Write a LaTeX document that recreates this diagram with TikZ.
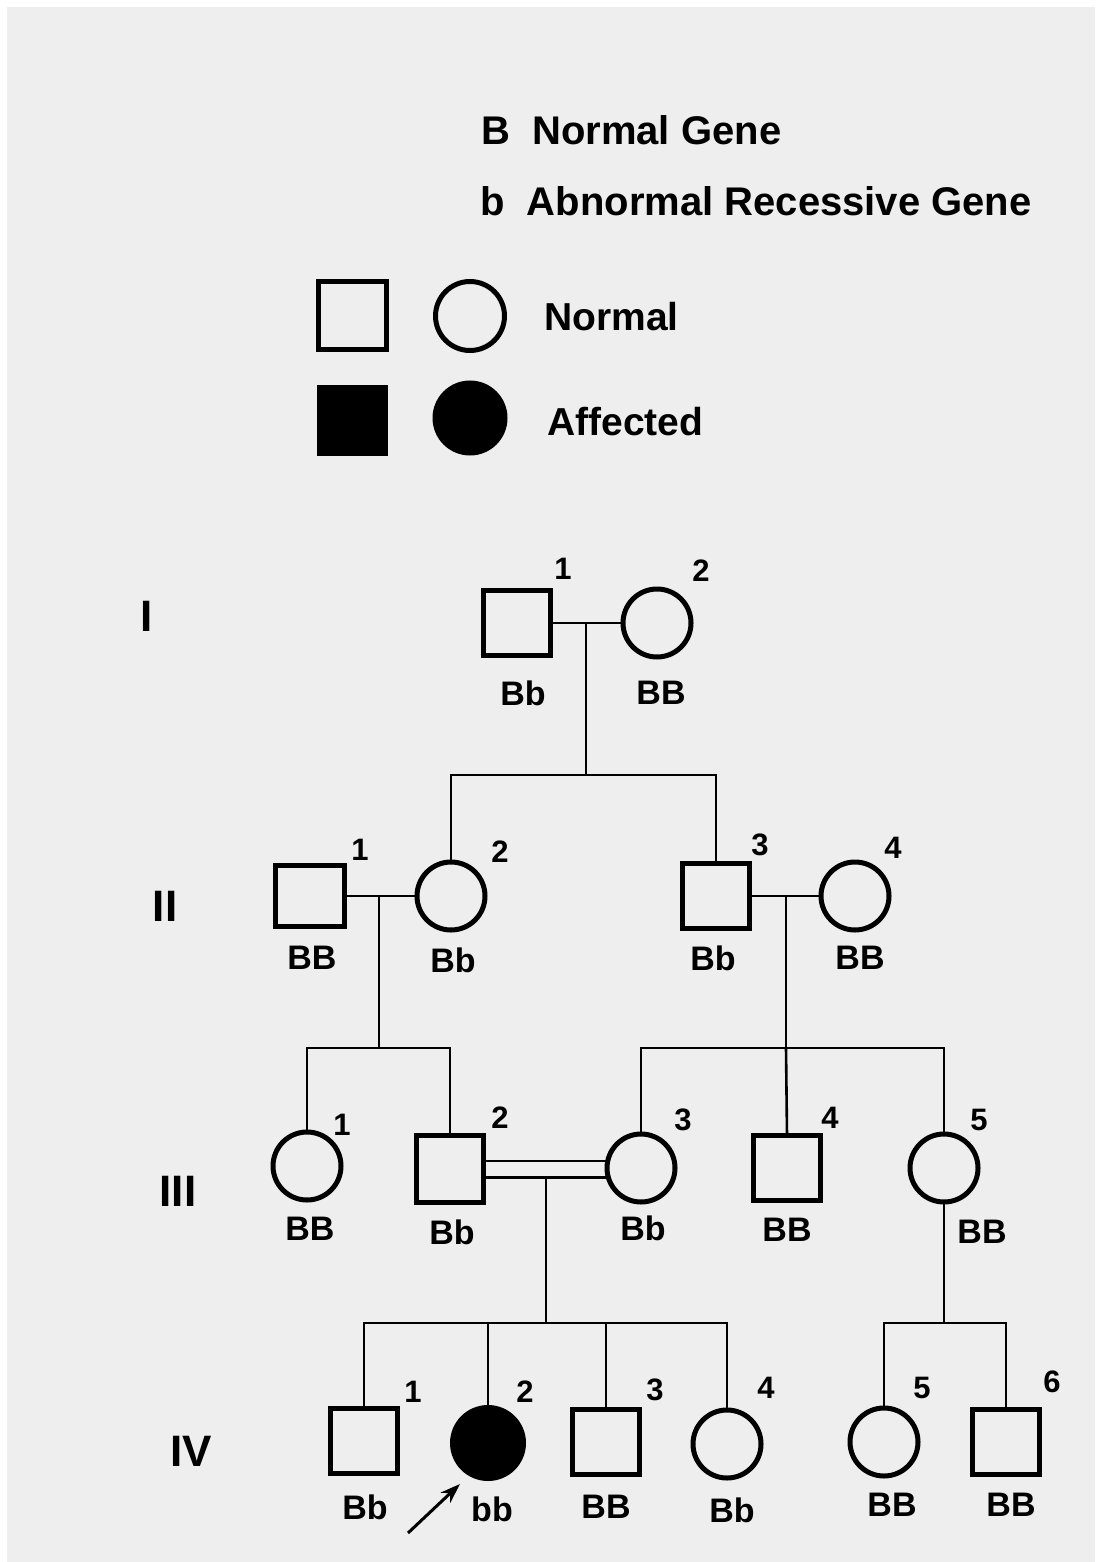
\documentclass[tikz,border=0pt]{standalone}
\usepackage{fontspec}
\setmainfont{Liberation Sans}
\usetikzlibrary{arrows.meta}
\definecolor{paper}{RGB}{238,238,238}
\begin{document}
\begin{tikzpicture}[x=1pt,y=-1pt,
  sym/.style={draw=black, line width=5pt, inner sep=0pt, outer sep=0pt},
  male/.style={sym, rectangle, minimum width=67pt, minimum height=65pt},
  female/.style={sym, circle, minimum size=68pt},
  aff/.style={fill=black},
  geno/.style={font=\fontsize{34}{38}\selectfont\bfseries, inner sep=0pt},
  idx/.style={font=\fontsize{31}{36}\selectfont\bfseries, inner sep=0pt},
  gen/.style={font=\fontsize{44}{50}\selectfont\bfseries, inner sep=0pt},
  legendtext/.style={font=\fontsize{40}{48}\selectfont\bfseries, inner sep=0pt, anchor=base west},
  link/.style={line width=2.6pt},
]
% page and paper
\fill[white] (0,0) rectangle (1095,1562);
\fill[paper] (7,7) rectangle (1095,1562);
\useasboundingbox (0,0) rectangle (1095,1562);

% ---- key ----
\node[legendtext] (keyB) at (481,145) {B\ \ Normal Gene};
\node[legendtext] (keyb) at (480,216) {b\ \ Abnormal Recessive Gene};
\node[male, minimum width=68pt, minimum height=68pt] (kMn) at (352,315) {};
\node[female, minimum size=69pt] (kFn) at (470,316) {};
\node[legendtext, font=\fontsize{39}{46}\selectfont\bfseries] (kNormal) at (544,330) {Normal};
\node[male, aff, minimum width=66pt, minimum height=66pt] (kMa) at (352,420) {};
\node[female, aff, minimum size=70pt] (kFa) at (470,418) {};
\node[legendtext, font=\fontsize{39}{46}\selectfont\bfseries] (kAff) at (547,435) {Affected};

% ---- generation labels ----
\node[gen] (gI)   at (147,616)  {I};
\node[gen] (gII)  at (165,906)  {II};
\node[gen] (gIII) at (178,1191) {III};
\node[gen] (gIV)  at (191,1451) {IV};

% ---- individuals ----
\node[male]   (I1) at (517,623) {};
\node[female] (I2) at (657,623) {};

\node[male, minimum width=69pt, minimum height=61pt] (II1) at (310,896) {};
\node[female] (II2) at (451,896) {};
\node[male]   (II3) at (716,896) {};
\node[female] (II4) at (855,896) {};

\node[female] (III1) at (307,1166) {};
\node[male, minimum height=67pt] (III2) at (450,1169) {};
\node[female] (III3) at (641,1168) {};
\node[male]   (III4) at (787,1168) {};
\node[female] (III5) at (944,1168) {};

\node[male]        (IV1) at (364,1441) {};
\node[female, aff, minimum size=71pt] (IV2) at (488,1443) {};
\node[male]        (IV3) at (606,1442) {};
\node[female]      (IV4) at (727,1444) {};
\node[female]      (IV5) at (884,1442) {};
\node[male]        (IV6) at (1006,1442) {};

% ---- numbers ----
\node[idx] (nI1) at (563,569) {1};
\node[idx] (nI2) at (701,571) {2};
\node[idx] (nII1) at (360,850) {1};
\node[idx] (nII2) at (500,852) {2};
\node[idx] (nII3) at (760,845) {3};
\node[idx] (nII4) at (893,848) {4};
\node[idx] (nIII1) at (342,1125) {1};
\node[idx] (nIII2) at (500,1118) {2};
\node[idx] (nIII3) at (683,1120) {3};
\node[idx] (nIII4) at (830,1118) {4};
\node[idx] (nIII5) at (979,1120) {5};
\node[idx] (nIV1) at (413,1392) {1};
\node[idx] (nIV2) at (525,1392) {2};
\node[idx] (nIV3) at (655,1390) {3};
\node[idx] (nIV4) at (766,1388) {4};
\node[idx] (nIV5) at (922,1388) {5};
\node[idx] (nIV6) at (1052,1382) {6};

% ---- genotypes ----
\node[geno] (tI1) at (523,693) {Bb};
\node[geno] (tI2) at (661,693) {BB};
\node[geno] (tII1) at (312,958) {BB};
\node[geno] (tII2) at (453,960) {Bb};
\node[geno] (tII3) at (713,958) {Bb};
\node[geno] (tII4) at (860,958) {BB};
\node[geno] (tIII1) at (310,1229) {BB};
\node[geno] (tIII2) at (452,1232) {Bb};
\node[geno] (tIII3) at (643,1228) {Bb};
\node[geno] (tIII4) at (787,1230) {BB};
\node[geno] (tIII5) at (982,1232) {BB};
\node[geno] (tIV1) at (365,1507) {Bb};
\node[geno] (tIV2) at (492,1509) {bb};
\node[geno] (tIV3) at (606,1507) {BB};
\node[geno] (tIV4) at (732,1510) {Bb};
\node[geno] (tIV5) at (892,1505) {BB};
\node[geno] (tIV6) at (1011,1505) {BB};

% ---- mating and descent points ----
\coordinate (mI) at (586,623);
\coordinate (sI) at (586,775);
\coordinate (mIIa) at (379,896);
\coordinate (sIIa) at (379,1048);
\coordinate (mIIb) at (786,896);
\coordinate (sIIb) at (786,1048);
\coordinate (mIII) at (546,1179);
\coordinate (sIIIa) at (546,1323);
\coordinate (sIIIb) at (944,1323);

% ---- generation I ----
\draw[link] (I1.east) -- (I2.west);
\draw[link] (mI) -- (sI);
\draw[link] (II2.north) -- (II2.north |- sI) -- (II3.north |- sI) -- (II3.north);

% ---- generation II ----
\draw[link] (II1.east) -- (II2.west);
\draw[link] (mIIa) -- (sIIa);
\draw[link] (III1.north) -- (III1.north |- sIIa) -- (III2.north |- sIIa) -- (III2.north);
\draw[link] (II3.east) -- (II4.west);
\draw[link] (mIIb) -- (sIIb);
\draw[link] (III3.north) -- (III3.north |- sIIb) -- (III5.north |- sIIb) -- (III5.north);
\draw[link] (sIIb) -- (III4.north);

% ---- generation III (consanguineous union) ----
\draw[link] (III2.east |- III3.168) -- (III3.168);
\draw[link] (III2.east |- III3.196) -- (III3.196);
\draw[link] (mIII) -- (sIIIa);
\draw[link] (IV1.north) -- (IV1.north |- sIIIa) -- (IV4.north |- sIIIa) -- (IV4.north);
\draw[link] (IV2.north) -- (IV2.north |- sIIIa);
\draw[link] (IV3.north) -- (IV3.north |- sIIIa);
\draw[link] (III5.south) -- (sIIIb);
\draw[link] (IV5.north) -- (IV5.north |- sIIIb) -- (IV6.north |- sIIIb) -- (IV6.north);

% ---- proband arrow ----
\coordinate (pTail) at (408,1533);
\coordinate (pTip) at (460,1484);
\draw[line width=3pt, -{Stealth[length=20pt, width=14pt]}] (pTail) -- (pTip);
\end{tikzpicture}
\end{document}
